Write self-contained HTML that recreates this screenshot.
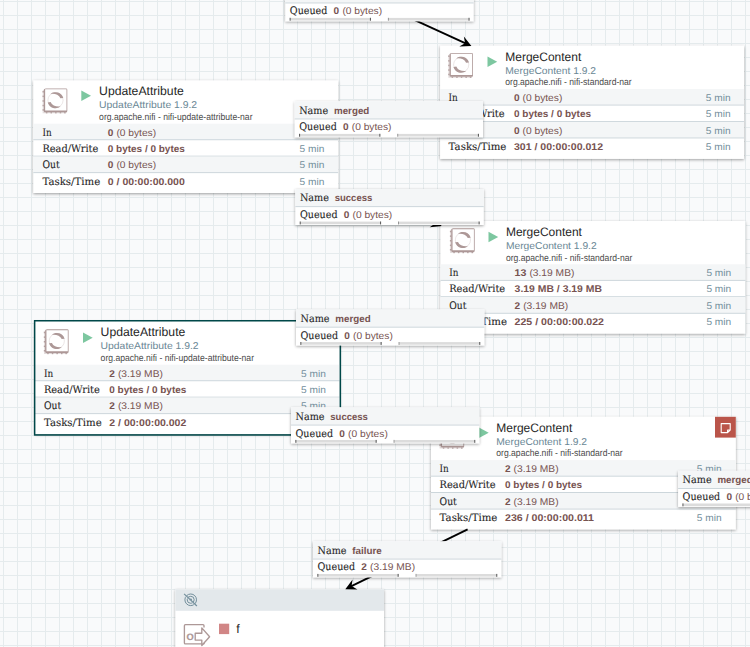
<!DOCTYPE html>
<html lang="en"><head><meta charset="utf-8"><title>NiFi Flow</title>
<style>
html,body{margin:0;padding:0;}
body{width:750px;height:647px;overflow:hidden;background:#f9fafb;}
#canvas{position:absolute;left:0;top:0;width:750px;height:647px;overflow:hidden;
 background-color:#f9fafb;
 background-image:linear-gradient(to right,#e5ebed 1px,transparent 1px),linear-gradient(to bottom,#e5ebed 1px,transparent 1px);
 background-size:14px 14px;background-position:3px 1px;}
svg{position:absolute;left:0;top:0;display:block;}
text{white-space:pre;text-rendering:geometricPrecision;}
.pname{font-family:'Liberation Sans', sans-serif;font-size:12.3px;fill:#262626;}
.ptype{font-family:'Liberation Sans', sans-serif;font-size:9.9px;fill:#6a8795;}
.pbundle{font-family:'Liberation Sans', sans-serif;font-size:9.7px;fill:#4a4a4a;}
.slabel{font-family:'DejaVu Serif', 'Liberation Serif', serif;font-size:10.3px;fill:#262626;stroke:#262626;stroke-width:0.1px;}
.sval{font-family:'Liberation Sans', sans-serif;font-size:9.8px;fill:#775351;}
.b{font-weight:bold;}
.sinfo{font-family:'Liberation Sans', sans-serif;font-size:9.8px;fill:#728e9b;}
.porto{font-family:'Liberation Sans', sans-serif;font-size:9.3px;font-weight:bold;fill:#ad9897;stroke:#ad9897;stroke-width:0.2px;}
</style></head><body>
<div id="canvas">
<svg width="750" height="647" viewBox="0 0 750 647">
<defs>
<filter id="ds" x="-10%" y="-20%" width="120%" height="150%">
 <feGaussianBlur in="SourceAlpha" stdDeviation="1.8"/>
 <feOffset dx="0" dy="1" result="o"/>
 <feComponentTransfer><feFuncA type="linear" slope="0.38"/></feComponentTransfer>
 <feMerge><feMergeNode/><feMergeNode in="SourceGraphic"/></feMerge>
</filter>
<symbol id="procicon" width="25" height="25.5" viewBox="0 0 25 25.5" overflow="visible">
 <path d="M3.4 0 H23.6 Q24.9 0 24.9 1.3 V22.6 Q24.9 23.9 23.6 23.9 H2.7 Q1.4 23.9 1.4 22.6 V1.6 Q1.4 0 3.4 0 Z M2.75 0.95 V22.05 H24.1 V0.95 Z" fill="#ad9897" fill-rule="evenodd"/>
 <path d="M1.5 1.0 L0.3 2.4 V24.8 L1.5 23.5 Z" fill="#ad9897" opacity="0.35"/>
 <path d="M1.5 23.5 L0.3 24.9 H23.4 L24.8 23.5 Z" fill="#ad9897" opacity="0.35"/>
 <g fill="#ad9897" opacity="0.85"><rect x="3.5" y="23.7" width="1.5" height="1.3"/><rect x="8.1" y="23.7" width="1.5" height="1.3"/><rect x="12.7" y="23.7" width="1.5" height="1.3"/><rect x="17.3" y="23.7" width="1.5" height="1.3"/><rect x="21.7" y="23.7" width="1.5" height="1.3"/><rect x="0.1" y="2.6" width="1.4" height="1.5"/><rect x="0.1" y="7.2" width="1.4" height="1.5"/><rect x="0.1" y="11.8" width="1.4" height="1.5"/><rect x="0.1" y="16.4" width="1.4" height="1.5"/><rect x="0.1" y="20.8" width="1.4" height="1.5"/></g>
 <g transform="translate(13.1,11.8)">
 <circle r="7.6" fill="none" stroke="#ad9897" stroke-width="0.6" opacity="0.4"/>
 <path d="M-5.0 -6.2 A7.95 7.95 0 0 1 7.75 -2.3 L4.9 -1.9 Q4.0 -4.2 1.7 -5.35 Q-1.2 -6.7 -5.0 -6.2 Z" fill="#ad9897"/>
 <path d="M5.0 6.2 A7.95 7.95 0 0 1 -7.75 2.3 L-4.9 1.9 Q-4.0 4.2 -1.7 5.35 Q1.2 6.7 5.0 6.2 Z" fill="#ad9897"/>
 </g>
</symbol>
</defs>

<g transform="translate(175.4,589.3)">
<rect x="0" y="0" width="208.6" height="70" fill="#fff" filter="url(#ds)"/>
<rect x="0" y="0" width="208.6" height="21.5" fill="#e3e8eb"/>
<g transform="translate(15.3,10.5)" fill="none" stroke="#728e9b" stroke-width="1.0"><circle r="1.3" fill="#728e9b" stroke="none"/><circle r="3.5"/><circle r="5.8"/><line x1="-5.4" y1="-4.2" x2="6.8" y2="7.2" stroke="#e3e8eb" stroke-width="1.2"/><line x1="-6.6" y1="-5.9" x2="6.2" y2="6.2" stroke-width="1.15"/></g>
<g fill="none" stroke="#ad9897" stroke-width="1.35" stroke-linejoin="round"><path d="M28.6 38.2 V36.4 Q28.6 35.4 27.6 35.4 H10.0 Q9.0 35.4 9.0 36.4 V53.6 Q9.0 54.6 10.0 54.6 H27.6 Q28.6 54.6 28.6 53.6 V55"/><path d="M19.8 44.0 H26.4 V38.6 L34.2 47.4 L26.4 56.2 V50.8 H19.8 Z" fill="#fff"/></g>
<text x="11.2" y="50.9" class="porto">O</text>
<rect x="43.6" y="34.4" width="10.2" height="10.4" fill="#d18686"/>
<text x="60.8" y="43.8" class="pname">f</text>
</g>
<g transform="translate(33.3,80.4)">
<rect x="0" y="0" width="304.8" height="112.6" fill="#fff" filter="url(#ds)"/>
<rect x="0" y="43.3" width="304.8" height="15.6" fill="#f4f6f7"/>
<rect x="0" y="58.9" width="304.8" height="0.9" fill="#c7d2d7"/>
<rect x="0" y="75.3" width="304.8" height="0.9" fill="#c7d2d7"/>
<rect x="0" y="76.2" width="304.8" height="15.6" fill="#f4f6f7"/>
<rect x="0" y="91.8" width="304.8" height="0.9" fill="#c7d2d7"/>
<use href="#procicon" x="9.1" y="8.0"/>
<path transform="translate(0.6,-0.6)" d="M47.4 10.8 L57.1 16.0 L47.4 21.3 Z" fill="#7dc7a0"/>
<text x="65.8" y="14.6" class="pname" textLength="84.7" lengthAdjust="spacingAndGlyphs">UpdateAttribute</text>
<text x="65.8" y="27.6" class="ptype" textLength="98.0" lengthAdjust="spacingAndGlyphs">UpdateAttribute 1.9.2</text>
<text x="65.8" y="39.6" class="pbundle" textLength="153.4" lengthAdjust="spacingAndGlyphs">org.apache.nifi - nifi-update-attribute-nar</text>
<text x="9.1" y="55.6" class="slabel" textLength="9.2" lengthAdjust="spacingAndGlyphs">In</text>
<text x="9.1" y="71.6" class="slabel" textLength="56.0" lengthAdjust="spacingAndGlyphs">Read/Write</text>
<text x="9.1" y="87.6" class="slabel" textLength="17.2" lengthAdjust="spacingAndGlyphs">Out</text>
<text x="9.1" y="104.6" class="slabel" textLength="57.8" lengthAdjust="spacingAndGlyphs">Tasks/Time</text>
<text x="74.5" y="55.6" class="sval b" textLength="5.6" lengthAdjust="spacingAndGlyphs">0</text>
<text x="83.1" y="55.6" class="sval" textLength="39.7" lengthAdjust="spacingAndGlyphs">(0 bytes)</text>
<text x="266.3" y="55.6" class="sinfo" textLength="24.8" lengthAdjust="spacingAndGlyphs">5 min</text>
<text x="74.5" y="71.6" class="sval b" textLength="77.0" lengthAdjust="spacingAndGlyphs">0 bytes / 0 bytes</text>
<text x="266.3" y="71.6" class="sinfo" textLength="24.8" lengthAdjust="spacingAndGlyphs">5 min</text>
<text x="74.5" y="87.6" class="sval b" textLength="5.6" lengthAdjust="spacingAndGlyphs">0</text>
<text x="83.1" y="87.6" class="sval" textLength="39.7" lengthAdjust="spacingAndGlyphs">(0 bytes)</text>
<text x="266.3" y="87.6" class="sinfo" textLength="24.8" lengthAdjust="spacingAndGlyphs">5 min</text>
<text x="74.5" y="104.6" class="sval b" textLength="77.0" lengthAdjust="spacingAndGlyphs">0 / 00:00:00.000</text>
<text x="266.3" y="104.6" class="sinfo" textLength="24.8" lengthAdjust="spacingAndGlyphs">5 min</text>
</g>
<g transform="translate(440.1,45.7)">
<rect x="0" y="0" width="303.9" height="113.2" fill="#fff" filter="url(#ds)"/>
<rect x="0" y="43.3" width="303.9" height="15.6" fill="#f4f6f7"/>
<rect x="0" y="58.9" width="303.9" height="0.9" fill="#c7d2d7"/>
<rect x="0" y="75.3" width="303.9" height="0.9" fill="#c7d2d7"/>
<rect x="0" y="76.2" width="303.9" height="15.6" fill="#f4f6f7"/>
<rect x="0" y="91.8" width="303.9" height="0.9" fill="#c7d2d7"/>
<use href="#procicon" x="8.0" y="7.2"/>
<path transform="translate(0.0,0.0)" d="M47.4 10.8 L57.1 16.0 L47.4 21.3 Z" fill="#7dc7a0"/>
<text x="65.2" y="15.3" class="pname" textLength="76.0" lengthAdjust="spacingAndGlyphs">MergeContent</text>
<text x="65.2" y="28.3" class="ptype" textLength="90.8" lengthAdjust="spacingAndGlyphs">MergeContent 1.9.2</text>
<text x="65.2" y="39.3" class="pbundle" textLength="126.4" lengthAdjust="spacingAndGlyphs">org.apache.nifi - nifi-standard-nar</text>
<text x="8.5" y="55.3" class="slabel" textLength="9.2" lengthAdjust="spacingAndGlyphs">In</text>
<text x="8.5" y="71.3" class="slabel" textLength="56.0" lengthAdjust="spacingAndGlyphs">Read/Write</text>
<text x="8.5" y="88.3" class="slabel" textLength="17.2" lengthAdjust="spacingAndGlyphs">Out</text>
<text x="8.5" y="104.3" class="slabel" textLength="57.8" lengthAdjust="spacingAndGlyphs">Tasks/Time</text>
<text x="73.9" y="55.3" class="sval b" textLength="5.6" lengthAdjust="spacingAndGlyphs">0</text>
<text x="82.5" y="55.3" class="sval" textLength="39.7" lengthAdjust="spacingAndGlyphs">(0 bytes)</text>
<text x="265.7" y="55.3" class="sinfo" textLength="24.8" lengthAdjust="spacingAndGlyphs">5 min</text>
<text x="73.9" y="71.3" class="sval b" textLength="77.0" lengthAdjust="spacingAndGlyphs">0 bytes / 0 bytes</text>
<text x="265.7" y="71.3" class="sinfo" textLength="24.8" lengthAdjust="spacingAndGlyphs">5 min</text>
<text x="73.9" y="88.3" class="sval b" textLength="5.6" lengthAdjust="spacingAndGlyphs">0</text>
<text x="82.5" y="88.3" class="sval" textLength="39.7" lengthAdjust="spacingAndGlyphs">(0 bytes)</text>
<text x="265.7" y="88.3" class="sinfo" textLength="24.8" lengthAdjust="spacingAndGlyphs">5 min</text>
<text x="73.9" y="104.3" class="sval b" textLength="89.0" lengthAdjust="spacingAndGlyphs">301 / 00:00:00.012</text>
<text x="265.7" y="104.3" class="sinfo" textLength="24.8" lengthAdjust="spacingAndGlyphs">5 min</text>
</g>
<g transform="translate(440.5,221.0)">
<rect x="0" y="0" width="304.8" height="112.6" fill="#fff" filter="url(#ds)"/>
<rect x="0" y="43.3" width="304.8" height="15.6" fill="#f4f6f7"/>
<rect x="0" y="58.9" width="304.8" height="0.9" fill="#c7d2d7"/>
<rect x="0" y="75.3" width="304.8" height="0.9" fill="#c7d2d7"/>
<rect x="0" y="76.2" width="304.8" height="15.6" fill="#f4f6f7"/>
<rect x="0" y="91.8" width="304.8" height="0.9" fill="#c7d2d7"/>
<use href="#procicon" x="9.3" y="7.2"/>
<path transform="translate(0.6,0.0)" d="M47.4 10.8 L57.1 16.0 L47.4 21.3 Z" fill="#7dc7a0"/>
<text x="65.4" y="15.0" class="pname" textLength="76.0" lengthAdjust="spacingAndGlyphs">MergeContent</text>
<text x="65.4" y="28.0" class="ptype" textLength="90.8" lengthAdjust="spacingAndGlyphs">MergeContent 1.9.2</text>
<text x="65.4" y="40.0" class="pbundle" textLength="126.4" lengthAdjust="spacingAndGlyphs">org.apache.nifi - nifi-standard-nar</text>
<text x="8.7" y="55.0" class="slabel" textLength="9.2" lengthAdjust="spacingAndGlyphs">In</text>
<text x="8.7" y="71.0" class="slabel" textLength="56.0" lengthAdjust="spacingAndGlyphs">Read/Write</text>
<text x="8.7" y="88.0" class="slabel" textLength="17.2" lengthAdjust="spacingAndGlyphs">Out</text>
<text x="8.7" y="104.0" class="slabel" textLength="57.8" lengthAdjust="spacingAndGlyphs">Tasks/Time</text>
<text x="74.1" y="55.0" class="sval b" textLength="11.8" lengthAdjust="spacingAndGlyphs">13</text>
<text x="88.9" y="55.0" class="sval" textLength="45.0" lengthAdjust="spacingAndGlyphs">(3.19 MB)</text>
<text x="265.9" y="55.0" class="sinfo" textLength="24.8" lengthAdjust="spacingAndGlyphs">5 min</text>
<text x="74.1" y="71.0" class="sval b" textLength="87.4" lengthAdjust="spacingAndGlyphs">3.19 MB / 3.19 MB</text>
<text x="265.9" y="71.0" class="sinfo" textLength="24.8" lengthAdjust="spacingAndGlyphs">5 min</text>
<text x="74.1" y="88.0" class="sval b" textLength="5.6" lengthAdjust="spacingAndGlyphs">2</text>
<text x="82.7" y="88.0" class="sval" textLength="45.0" lengthAdjust="spacingAndGlyphs">(3.19 MB)</text>
<text x="265.9" y="88.0" class="sinfo" textLength="24.8" lengthAdjust="spacingAndGlyphs">5 min</text>
<text x="74.1" y="104.0" class="sval b" textLength="89.4" lengthAdjust="spacingAndGlyphs">225 / 00:00:00.022</text>
<text x="265.9" y="104.0" class="sinfo" textLength="24.8" lengthAdjust="spacingAndGlyphs">5 min</text>
</g>
<g transform="translate(34.8,321.4)">
<rect x="0" y="0" width="304.8" height="112.6" fill="#fff" filter="url(#ds)"/>
<rect x="0" y="43.3" width="304.8" height="15.6" fill="#f4f6f7"/>
<rect x="0" y="58.9" width="304.8" height="0.9" fill="#c7d2d7"/>
<rect x="0" y="75.3" width="304.8" height="0.9" fill="#c7d2d7"/>
<rect x="0" y="76.2" width="304.8" height="15.6" fill="#f4f6f7"/>
<rect x="0" y="91.8" width="304.8" height="0.9" fill="#c7d2d7"/>
<rect x="-0.15" y="-0.65" width="305.7" height="114.2" fill="none" stroke="#004849" stroke-width="1.5"/>
<use href="#procicon" x="8.9" y="7.8"/>
<path transform="translate(0.8,0.3)" d="M47.4 10.8 L57.1 16.0 L47.4 21.3 Z" fill="#7dc7a0"/>
<text x="65.8" y="14.6" class="pname" textLength="84.7" lengthAdjust="spacingAndGlyphs">UpdateAttribute</text>
<text x="65.8" y="27.6" class="ptype" textLength="98.0" lengthAdjust="spacingAndGlyphs">UpdateAttribute 1.9.2</text>
<text x="65.8" y="39.6" class="pbundle" textLength="153.4" lengthAdjust="spacingAndGlyphs">org.apache.nifi - nifi-update-attribute-nar</text>
<text x="9.1" y="55.6" class="slabel" textLength="9.2" lengthAdjust="spacingAndGlyphs">In</text>
<text x="9.1" y="71.6" class="slabel" textLength="56.0" lengthAdjust="spacingAndGlyphs">Read/Write</text>
<text x="9.1" y="87.6" class="slabel" textLength="17.2" lengthAdjust="spacingAndGlyphs">Out</text>
<text x="9.1" y="104.6" class="slabel" textLength="57.8" lengthAdjust="spacingAndGlyphs">Tasks/Time</text>
<text x="74.5" y="55.6" class="sval b" textLength="5.6" lengthAdjust="spacingAndGlyphs">2</text>
<text x="83.1" y="55.6" class="sval" textLength="45.0" lengthAdjust="spacingAndGlyphs">(3.19 MB)</text>
<text x="266.3" y="55.6" class="sinfo" textLength="24.8" lengthAdjust="spacingAndGlyphs">5 min</text>
<text x="74.5" y="71.6" class="sval b" textLength="77.0" lengthAdjust="spacingAndGlyphs">0 bytes / 0 bytes</text>
<text x="266.3" y="71.6" class="sinfo" textLength="24.8" lengthAdjust="spacingAndGlyphs">5 min</text>
<text x="74.5" y="87.6" class="sval b" textLength="5.6" lengthAdjust="spacingAndGlyphs">2</text>
<text x="83.1" y="87.6" class="sval" textLength="45.0" lengthAdjust="spacingAndGlyphs">(3.19 MB)</text>
<text x="266.3" y="87.6" class="sinfo" textLength="24.8" lengthAdjust="spacingAndGlyphs">5 min</text>
<text x="74.5" y="104.6" class="sval b" textLength="77.0" lengthAdjust="spacingAndGlyphs">2 / 00:00:00.002</text>
<text x="266.3" y="104.6" class="sinfo" textLength="24.8" lengthAdjust="spacingAndGlyphs">5 min</text>
</g>
<g transform="translate(431.0,416.8)">
<rect x="0" y="0" width="304.8" height="112.6" fill="#fff" filter="url(#ds)"/>
<rect x="0" y="43.3" width="304.8" height="15.6" fill="#f4f6f7"/>
<rect x="0" y="58.9" width="304.8" height="0.9" fill="#c7d2d7"/>
<rect x="0" y="75.3" width="304.8" height="0.9" fill="#c7d2d7"/>
<rect x="0" y="76.2" width="304.8" height="15.6" fill="#f4f6f7"/>
<rect x="0" y="91.8" width="304.8" height="0.9" fill="#c7d2d7"/>
<use href="#procicon" x="8.3" y="6.9"/>
<path transform="translate(0.6,0.0)" d="M47.4 10.8 L57.1 16.0 L47.4 21.3 Z" fill="#7dc7a0"/>
<text x="65.3" y="15.2" class="pname" textLength="76.0" lengthAdjust="spacingAndGlyphs">MergeContent</text>
<text x="65.3" y="28.2" class="ptype" textLength="90.8" lengthAdjust="spacingAndGlyphs">MergeContent 1.9.2</text>
<text x="65.3" y="39.2" class="pbundle" textLength="126.4" lengthAdjust="spacingAndGlyphs">org.apache.nifi - nifi-standard-nar</text>
<text x="8.6" y="55.2" class="slabel" textLength="9.2" lengthAdjust="spacingAndGlyphs">In</text>
<text x="8.6" y="71.2" class="slabel" textLength="56.0" lengthAdjust="spacingAndGlyphs">Read/Write</text>
<text x="8.6" y="88.2" class="slabel" textLength="17.2" lengthAdjust="spacingAndGlyphs">Out</text>
<text x="8.6" y="104.2" class="slabel" textLength="57.8" lengthAdjust="spacingAndGlyphs">Tasks/Time</text>
<text x="74.0" y="55.2" class="sval b" textLength="5.6" lengthAdjust="spacingAndGlyphs">2</text>
<text x="82.6" y="55.2" class="sval" textLength="45.0" lengthAdjust="spacingAndGlyphs">(3.19 MB)</text>
<text x="265.8" y="55.2" class="sinfo" textLength="24.8" lengthAdjust="spacingAndGlyphs">5 min</text>
<text x="74.0" y="71.2" class="sval b" textLength="77.0" lengthAdjust="spacingAndGlyphs">0 bytes / 0 bytes</text>
<text x="265.8" y="71.2" class="sinfo" textLength="24.8" lengthAdjust="spacingAndGlyphs">5 min</text>
<text x="74.0" y="88.2" class="sval b" textLength="5.6" lengthAdjust="spacingAndGlyphs">2</text>
<text x="82.6" y="88.2" class="sval" textLength="45.0" lengthAdjust="spacingAndGlyphs">(3.19 MB)</text>
<text x="265.8" y="88.2" class="sinfo" textLength="24.8" lengthAdjust="spacingAndGlyphs">5 min</text>
<text x="74.0" y="104.2" class="sval b" textLength="89.0" lengthAdjust="spacingAndGlyphs">236 / 00:00:00.011</text>
<text x="265.8" y="104.2" class="sinfo" textLength="24.8" lengthAdjust="spacingAndGlyphs">5 min</text>
<rect x="284.0" y="0" width="20.8" height="20.8" fill="#ba554a"/>
<path d="M290.2 6.8 h9.0 v6.4 l-2.6 2.6 h-6.4 Z M299.2 13.2 h-2.6 v2.6" fill="none" stroke="#fff" stroke-width="1.1" stroke-linejoin="round"/>
</g>
<line x1="381.0" y1="4.6" x2="467.8" y2="44.4" stroke="#000" stroke-width="1.8"/><path transform="translate(471.4,46.1) rotate(24.7)" d="M0 0 L-10.8 -5.5 L-7.0 0 L-10.8 5.5 Z" fill="#000"/>
<line x1="391.2" y1="206.5" x2="438.0" y2="224.6" stroke="#000" stroke-width="1.8"/><path transform="translate(441.7,226.0) rotate(21.1)" d="M0 0 L-10.8 -5.5 L-7.0 0 L-10.8 5.5 Z" fill="#000"/>
<line x1="467.6" y1="529.4" x2="348.9" y2="587.4" stroke="#000" stroke-width="1.8"/><path transform="translate(345.3,589.2) rotate(153.9)" d="M0 0 L-10.8 -5.5 L-7.0 0 L-10.8 5.5 Z" fill="#000"/>
<g transform="translate(285.3,-14.7)">
<rect x="0" y="0" width="188.3" height="36.0" fill="#fff" filter="url(#ds)"/>
<rect x="0" y="0" width="188.3" height="17.2" fill="#f4f6f7"/>
<rect x="0" y="17.2" width="188.3" height="0.9" fill="#c7d2d7"/>
<text x="4.5" y="12.7" class="slabel" textLength="29.0" lengthAdjust="spacingAndGlyphs">Name</text>
<text x="39.3" y="12.7" class="sval b" textLength="1.0" lengthAdjust="spacingAndGlyphs"></text>
<text x="4.5" y="28.7" class="slabel" textLength="37.6" lengthAdjust="spacingAndGlyphs">Queued</text>
<text x="48.3" y="28.7" class="sval b" textLength="5.6" lengthAdjust="spacingAndGlyphs">0</text>
<text x="57.1" y="28.7" class="sval" textLength="39.7" lengthAdjust="spacingAndGlyphs">(0 bytes)</text>
<rect x="5.2" y="32.6" width="80.2" height="2.6" fill="#dcdcdc"/>
<rect x="103.4" y="32.6" width="80.4" height="2.6" fill="#dcdcdc"/>
<rect x="4.3" y="32.5" width="1.1" height="2.9" fill="#606060"/>
<rect x="84.6" y="32.5" width="1.1" height="2.9" fill="#606060"/>
<rect x="102.6" y="32.5" width="0.9" height="2.9" fill="#8a8a8a"/>
<rect x="183.2" y="32.5" width="1.1" height="2.9" fill="#606060"/>
</g>
<g transform="translate(294.7,101.3)">
<rect x="0" y="0" width="188.3" height="36.0" fill="#fff" filter="url(#ds)"/>
<rect x="0" y="0" width="188.3" height="17.2" fill="#f4f6f7"/>
<rect x="0" y="17.2" width="188.3" height="0.9" fill="#c7d2d7"/>
<text x="4.5" y="12.7" class="slabel" textLength="29.0" lengthAdjust="spacingAndGlyphs">Name</text>
<text x="39.3" y="12.7" class="sval b" textLength="35.3" lengthAdjust="spacingAndGlyphs">merged</text>
<text x="4.5" y="28.7" class="slabel" textLength="37.6" lengthAdjust="spacingAndGlyphs">Queued</text>
<text x="48.3" y="28.7" class="sval b" textLength="5.6" lengthAdjust="spacingAndGlyphs">0</text>
<text x="57.1" y="28.7" class="sval" textLength="39.7" lengthAdjust="spacingAndGlyphs">(0 bytes)</text>
<rect x="5.2" y="32.6" width="80.2" height="2.6" fill="#dcdcdc"/>
<rect x="103.4" y="32.6" width="80.4" height="2.6" fill="#dcdcdc"/>
<rect x="4.3" y="32.5" width="1.1" height="2.9" fill="#606060"/>
<rect x="84.6" y="32.5" width="1.1" height="2.9" fill="#606060"/>
<rect x="102.6" y="32.5" width="0.9" height="2.9" fill="#8a8a8a"/>
<rect x="183.2" y="32.5" width="1.1" height="2.9" fill="#606060"/>
</g>
<g transform="translate(295.4,189.0)">
<rect x="0" y="0" width="188.3" height="36.0" fill="#fff" filter="url(#ds)"/>
<rect x="0" y="0" width="188.3" height="17.2" fill="#f4f6f7"/>
<rect x="0" y="17.2" width="188.3" height="0.9" fill="#c7d2d7"/>
<text x="4.5" y="12.0" class="slabel" textLength="29.0" lengthAdjust="spacingAndGlyphs">Name</text>
<text x="39.3" y="12.0" class="sval b" textLength="37.6" lengthAdjust="spacingAndGlyphs">success</text>
<text x="4.5" y="29.0" class="slabel" textLength="37.6" lengthAdjust="spacingAndGlyphs">Queued</text>
<text x="48.3" y="29.0" class="sval b" textLength="5.6" lengthAdjust="spacingAndGlyphs">0</text>
<text x="57.1" y="29.0" class="sval" textLength="39.7" lengthAdjust="spacingAndGlyphs">(0 bytes)</text>
<rect x="5.2" y="32.6" width="80.2" height="2.6" fill="#dcdcdc"/>
<rect x="103.4" y="32.6" width="80.4" height="2.6" fill="#dcdcdc"/>
<rect x="4.3" y="32.5" width="1.1" height="2.9" fill="#606060"/>
<rect x="84.6" y="32.5" width="1.1" height="2.9" fill="#606060"/>
<rect x="102.6" y="32.5" width="0.9" height="2.9" fill="#8a8a8a"/>
<rect x="183.2" y="32.5" width="1.1" height="2.9" fill="#606060"/>
</g>
<g transform="translate(296.0,309.5)">
<rect x="0" y="0" width="188.3" height="36.0" fill="#fff" filter="url(#ds)"/>
<rect x="0" y="0" width="188.3" height="17.2" fill="#f4f6f7"/>
<rect x="0" y="17.2" width="188.3" height="0.9" fill="#c7d2d7"/>
<text x="4.5" y="12.5" class="slabel" textLength="29.0" lengthAdjust="spacingAndGlyphs">Name</text>
<text x="39.3" y="12.5" class="sval b" textLength="35.3" lengthAdjust="spacingAndGlyphs">merged</text>
<text x="4.5" y="29.5" class="slabel" textLength="37.6" lengthAdjust="spacingAndGlyphs">Queued</text>
<text x="48.3" y="29.5" class="sval b" textLength="5.6" lengthAdjust="spacingAndGlyphs">0</text>
<text x="57.1" y="29.5" class="sval" textLength="39.7" lengthAdjust="spacingAndGlyphs">(0 bytes)</text>
<rect x="5.2" y="32.6" width="80.2" height="2.6" fill="#dcdcdc"/>
<rect x="103.4" y="32.6" width="80.4" height="2.6" fill="#dcdcdc"/>
<rect x="4.3" y="32.5" width="1.1" height="2.9" fill="#606060"/>
<rect x="84.6" y="32.5" width="1.1" height="2.9" fill="#606060"/>
<rect x="102.6" y="32.5" width="0.9" height="2.9" fill="#8a8a8a"/>
<rect x="183.2" y="32.5" width="1.1" height="2.9" fill="#606060"/>
</g>
<g transform="translate(291.0,407.4)">
<rect x="0" y="0" width="188.3" height="36.0" fill="#fff" filter="url(#ds)"/>
<rect x="0" y="0" width="188.3" height="17.2" fill="#f4f6f7"/>
<rect x="0" y="17.2" width="188.3" height="0.9" fill="#c7d2d7"/>
<text x="4.5" y="12.6" class="slabel" textLength="29.0" lengthAdjust="spacingAndGlyphs">Name</text>
<text x="39.3" y="12.6" class="sval b" textLength="37.6" lengthAdjust="spacingAndGlyphs">success</text>
<text x="4.5" y="29.6" class="slabel" textLength="37.6" lengthAdjust="spacingAndGlyphs">Queued</text>
<text x="48.3" y="29.6" class="sval b" textLength="5.6" lengthAdjust="spacingAndGlyphs">0</text>
<text x="57.1" y="29.6" class="sval" textLength="39.7" lengthAdjust="spacingAndGlyphs">(0 bytes)</text>
<rect x="5.2" y="32.6" width="80.2" height="2.6" fill="#dcdcdc"/>
<rect x="103.4" y="32.6" width="80.4" height="2.6" fill="#dcdcdc"/>
<rect x="4.3" y="32.5" width="1.1" height="2.9" fill="#606060"/>
<rect x="84.6" y="32.5" width="1.1" height="2.9" fill="#606060"/>
<rect x="102.6" y="32.5" width="0.9" height="2.9" fill="#8a8a8a"/>
<rect x="183.2" y="32.5" width="1.1" height="2.9" fill="#606060"/>
</g>
<g transform="translate(678.1,470.9)">
<rect x="0" y="0" width="188.3" height="36.0" fill="#fff" filter="url(#ds)"/>
<rect x="0" y="0" width="188.3" height="17.2" fill="#f4f6f7"/>
<rect x="0" y="17.2" width="188.3" height="0.9" fill="#c7d2d7"/>
<text x="4.5" y="12.1" class="slabel" textLength="29.0" lengthAdjust="spacingAndGlyphs">Name</text>
<text x="39.3" y="12.1" class="sval b" textLength="35.3" lengthAdjust="spacingAndGlyphs">merged</text>
<text x="4.5" y="29.1" class="slabel" textLength="37.6" lengthAdjust="spacingAndGlyphs">Queued</text>
<text x="48.3" y="29.1" class="sval b" textLength="5.6" lengthAdjust="spacingAndGlyphs">0</text>
<text x="57.1" y="29.1" class="sval" textLength="39.7" lengthAdjust="spacingAndGlyphs">(0 bytes)</text>
<rect x="5.2" y="32.6" width="80.2" height="2.6" fill="#dcdcdc"/>
<rect x="103.4" y="32.6" width="80.4" height="2.6" fill="#dcdcdc"/>
<rect x="4.3" y="32.5" width="1.1" height="2.9" fill="#606060"/>
<rect x="84.6" y="32.5" width="1.1" height="2.9" fill="#606060"/>
<rect x="102.6" y="32.5" width="0.9" height="2.9" fill="#8a8a8a"/>
<rect x="183.2" y="32.5" width="1.1" height="2.9" fill="#606060"/>
</g>
<g transform="translate(313.0,541.4)">
<rect x="0" y="0" width="188.3" height="36.0" fill="#fff" filter="url(#ds)"/>
<rect x="0" y="0" width="188.3" height="17.2" fill="#f4f6f7"/>
<rect x="0" y="17.2" width="188.3" height="0.9" fill="#c7d2d7"/>
<text x="4.5" y="12.6" class="slabel" textLength="29.0" lengthAdjust="spacingAndGlyphs">Name</text>
<text x="39.3" y="12.6" class="sval b" textLength="29.5" lengthAdjust="spacingAndGlyphs">failure</text>
<text x="4.5" y="28.6" class="slabel" textLength="37.6" lengthAdjust="spacingAndGlyphs">Queued</text>
<text x="48.3" y="28.6" class="sval b" textLength="5.6" lengthAdjust="spacingAndGlyphs">2</text>
<text x="57.1" y="28.6" class="sval" textLength="45.0" lengthAdjust="spacingAndGlyphs">(3.19 MB)</text>
<rect x="5.2" y="32.6" width="80.2" height="2.6" fill="#dcdcdc"/>
<rect x="103.4" y="32.6" width="80.4" height="2.6" fill="#dcdcdc"/>
<rect x="4.3" y="32.5" width="1.1" height="2.9" fill="#606060"/>
<rect x="84.6" y="32.5" width="1.1" height="2.9" fill="#606060"/>
<rect x="102.6" y="32.5" width="0.9" height="2.9" fill="#8a8a8a"/>
<rect x="183.2" y="32.5" width="1.1" height="2.9" fill="#606060"/>
</g>
</svg></div></body></html>
